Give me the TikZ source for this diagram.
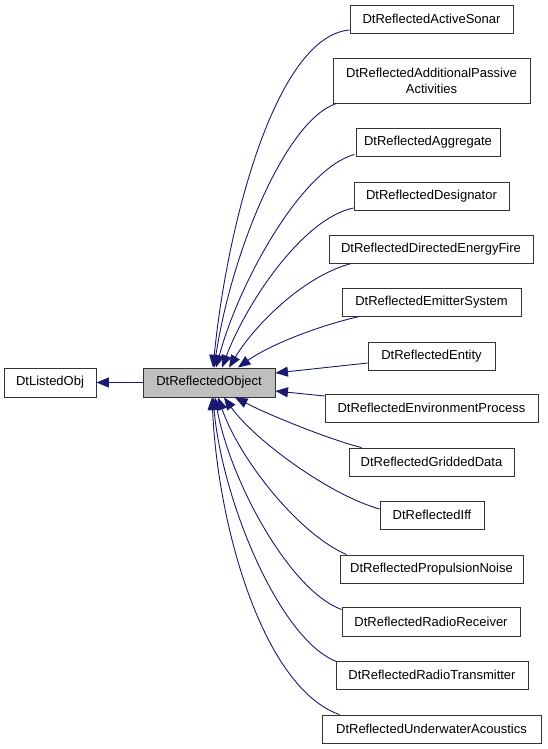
\documentclass[tikz,border=0pt]{standalone}
\usepackage{fontspec}
\setmainfont{Liberation Sans}
\usetikzlibrary{arrows.meta,calc}
\definecolor{edgeblue}{HTML}{191970}
\definecolor{objgray}{HTML}{BFBFBF}
\tikzset{
  box/.style={draw=black!80, line width=0.9pt, fill=white, inner sep=0pt, minimum height=28pt,
    font=\fontsize{13}{16}\selectfont, align=center},
  edge/.style={draw=edgeblue, line width=0.9pt, -{Triangle[length=12.5pt,width=10pt]}},
}
\begin{document}
\begin{tikzpicture}[x=1pt,y=-1pt]
\useasboundingbox (0,0) rectangle (547,749);
% nodes
\node[box, minimum width=92pt, minimum height=29pt] (listed) at (50,382.5) {DtListedObj};
\node[box, fill=objgray, minimum width=132pt, minimum height=29pt] (obj) at (209,382.5) {DtReflectedObject};
\node[box, minimum width=163pt] (sonar) at (431.5,19) {DtReflectedActiveSonar};
\node[box, minimum width=197pt, minimum height=45pt] (addl) at (431.5,80.5) {DtReflectedAdditionalPassive\\Activities};
\node[box, minimum width=144pt] (aggr) at (428,142) {DtReflectedAggregate};
\node[box, minimum width=155pt] (desig) at (431.5,196) {DtReflectedDesignator};
\node[box, minimum width=204pt] (def) at (431,249) {DtReflectedDirectedEnergyFire};
\node[box, minimum width=179pt] (emit) at (431.5,302) {DtReflectedEmitterSystem};
\node[box, minimum width=127pt] (entity) at (431.5,356) {DtReflectedEntity};
\node[box, minimum width=213pt] (env) at (431.5,408) {DtReflectedEnvironmentProcess};
\node[box, minimum width=165pt] (grid) at (431.5,462) {DtReflectedGriddedData};
\node[box, minimum width=104pt] (iff) at (432,515) {DtReflectedIff};
\node[box, minimum width=183pt] (prop) at (431.5,569) {DtReflectedPropulsionNoise};
\node[box, minimum width=178pt, minimum height=29pt] (rrec) at (431,621.5) {DtReflectedRadioReceiver};
\node[box, minimum width=192pt] (rtx) at (432,675) {DtReflectedRadioTransmitter};
\node[box, minimum width=219pt] (uwa) at (431.5,729) {DtReflectedUnderwaterAcoustics};
% edges
\draw[edge] (obj.west) -- (listed.east);
\draw[edge] ($(sonar.west)+(0,11)$) .. controls +(-72,6) and +(15,-150) .. ($(obj.north)+(4,0)$);
\draw[edge] ($(addl.south west)+(4,0)$) .. controls +(-50,16) and +(18,-118) .. ($(obj.north)+(5,0)$);
\draw[edge] ($(aggr.south west)+(-1,-2)$) .. controls +(-52,14) and +(24,-88) .. ($(obj.north)+(7,0)$);
\draw[edge] ($(desig.west)+(0,12)$) .. controls +(-50,10) and +(25,-66) .. ($(obj.north)+(13,0)$);
\draw[edge] ($(def.south west)+(23,0)$) .. controls +(-47,12) and +(26,-43) .. ($(obj.north)+(20,0)$);
\draw[edge] ($(emit.south west)+(18,0)$) .. controls +(-40,9) and +(32,-23) .. ($(obj.north)+(29,0)$);
\draw[edge] ($(entity.west)+(0,7)$) -- ($(obj.east)+(0,-9.5)$);
\draw[edge] ($(env.west)+(0,-12)$) -- ($(obj.east)+(0,8.5)$);
\draw[edge] ($(grid.north west)+(13,0)$) .. controls +(-32,-8) and +(35,18) .. ($(obj.south)+(26,0)$);
\draw[edge] ($(iff.west)+(0,-6)$) .. controls +(-50,-14) and +(31,43) .. ($(obj.south)+(15,0)$);
\draw[edge] ($(prop.north west)+(7,0)$) .. controls +(-47,-20) and +(22,63) .. ($(obj.south)+(9,0)$);
\draw[edge] ($(rrec.west)+(0,-12)$) .. controls +(-52,-19) and +(15,83) .. ($(obj.south)+(6,0)$);
\draw[edge] ($(rtx.north west)+(1,1)$) .. controls +(-57,-22) and +(9,103) .. ($(obj.south)+(4,0)$);
\draw[edge] ($(uwa.north west)+(18,0)$) .. controls +(-75,-26) and +(6,133) .. ($(obj.south)+(3,0)$);
\end{tikzpicture}
\end{document}
